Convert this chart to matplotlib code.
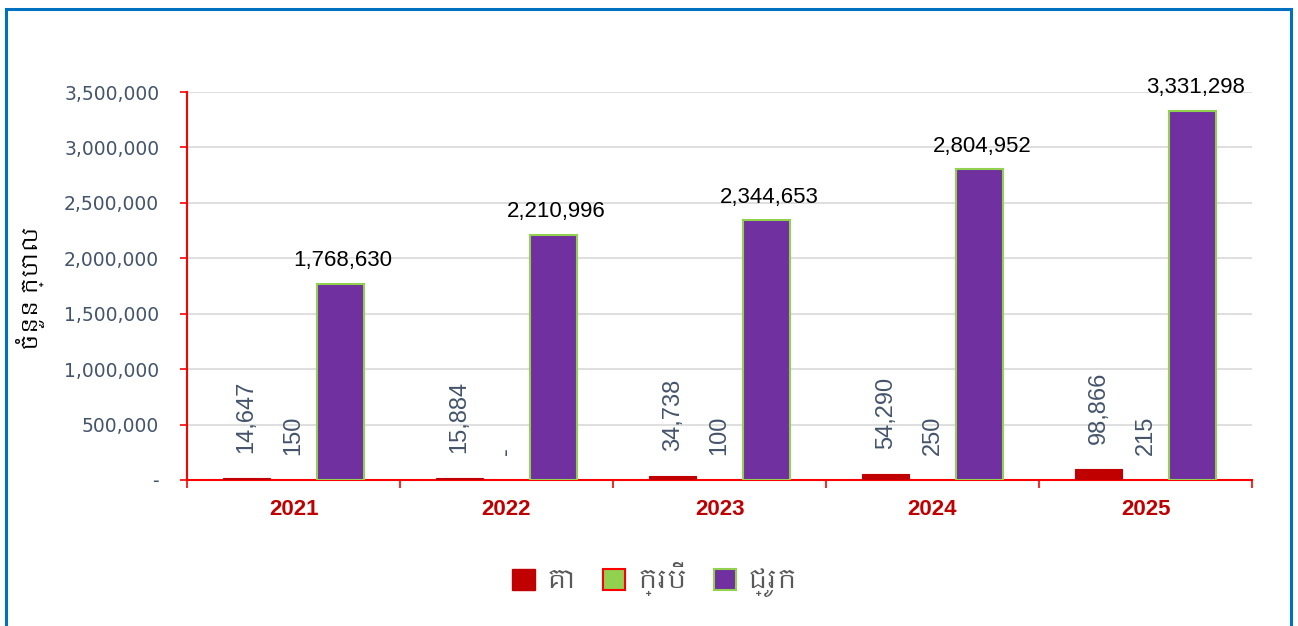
import matplotlib
matplotlib.use("Agg")
import matplotlib.pyplot as plt
import numpy as np
from matplotlib import font_manager
from matplotlib.patches import Rectangle, Patch

# ---------------- data ----------------
years = ["2021", "2022", "2023", "2024", "2025"]
series_names = ["គោ", "ក្របី", "ជ្រូក"]
cattle = [14647, 15884, 34738, 54290, 98866]
buffalo = [150, 0, 100, 250, 215]
pigs = [1768630, 2210996, 2344653, 2804952, 3331298]
y_label = "ចំនួន ក្បាល"
y_ticks = [0, 500000, 1000000, 1500000, 2000000, 2500000, 3000000, 3500000]

# ---------------- find a Khmer-capable font if any ----------------
khmer_family = None
try:
    from fontTools.ttLib import TTFont
    seen = set()
    for f in font_manager.fontManager.ttflist:
        if f.fname in seen:
            continue
        seen.add(f.fname)
        if "khmer" in f.name.lower() or "khmer" in f.fname.lower():
            khmer_family = f.name
            break
    if khmer_family is None:
        for f in font_manager.fontManager.ttflist:
            try:
                tt = TTFont(f.fname, fontNumber=0, lazy=True)
                cmap = tt.getBestCmap()
                if cmap and 0x1780 in cmap and 0x1794 in cmap:
                    khmer_family = f.name
                    break
            except Exception:
                continue
except Exception:
    pass
kh_fam = [khmer_family, "DejaVu Sans"] if khmer_family else ["DejaVu Sans"]

# ---------------- colours ----------------
c_cattle = "#C00000"
c_buff = "#92D050"
c_pig = "#7030A0"
c_axis = "#FF0000"
c_tick_text = "#44546A"
c_grid = "#D9D9D9"

W, H = 1298, 626
fig = plt.figure(figsize=(W / 100, H / 100), dpi=100)
ax = fig.add_axes([187 / W, 1 - 480 / H, (1252 - 187) / W, (480 - 92) / H])

x = np.arange(len(years))
bw = 0.22
b1 = ax.bar(x - bw, cattle, bw, color=c_cattle, edgecolor=c_cattle, linewidth=0.8, zorder=3)
b2 = ax.bar(x, buffalo, bw, color=c_buff, edgecolor=c_axis, linewidth=1.2, zorder=3)
b3 = ax.bar(x + bw, pigs, bw, color=c_pig, edgecolor=c_buff, linewidth=1.5, zorder=3)

ax.set_xlim(-0.5, len(years) - 0.5)
ax.set_ylim(0, 3500000)
ax.set_yticks(y_ticks)
ax.set_yticklabels(["-" if v == 0 else f"{v:,}" for v in y_ticks],
                   fontsize=13.5, color=c_tick_text, family="DejaVu Sans")
ax.yaxis.grid(True, color=c_grid, linewidth=1.2, zorder=0)
ax.set_axisbelow(True)

ax.set_xticks(x)
ax.set_xticklabels(years, fontsize=16, fontweight="bold", color=c_cattle,
                   family="Liberation Sans")
ax.tick_params(axis="x", length=0, pad=14)
ax.set_xticks(np.arange(-0.5, len(years)), minor=True)
ax.tick_params(axis="x", which="minor", length=5.5, color=c_axis, width=1.2, direction="out")
ax.tick_params(axis="y", length=5, color=c_axis, width=1.2, direction="out", pad=15)

for s in ["top", "right"]:
    ax.spines[s].set_visible(False)
for s in ["left", "bottom"]:
    ax.spines[s].set_color(c_axis)
    ax.spines[s].set_linewidth(1.5)

# rotated labels for cattle and buffalo
for bars, vals in [(b1, cattle), (b2, buffalo)]:
    for r, v in zip(bars, vals):
        txt = "-" if v == 0 else f"{v:,}"
        ax.annotate(txt, (r.get_x() + r.get_width() / 2, r.get_height()),
                    xytext=(0, 18), textcoords="offset points",
                    rotation=90, ha="center", va="bottom",
                    fontsize=17, color=c_tick_text, family="Liberation Sans")
# pig labels
for r, v in zip(b3, pigs):
    ax.annotate(f"{v:,}", (r.get_x() + r.get_width() / 2, r.get_height()),
                xytext=(2, 9), textcoords="offset points",
                ha="center", va="bottom", fontsize=16, color="black",
                family="Liberation Sans")

fig.text(30 / W, 1 - 288 / H, y_label, rotation=90, ha="center", va="center",
         fontsize=16, fontweight="bold", color="black", family=kh_fam)

handles = [Patch(facecolor=c_cattle, edgecolor=c_cattle),
           Patch(facecolor=c_buff, edgecolor=c_axis, linewidth=1.5),
           Patch(facecolor=c_pig, edgecolor=c_buff, linewidth=1.5)]
leg = fig.legend(handles, series_names, loc="center", bbox_to_anchor=(655 / W, 1 - 580 / H),
                 ncol=3, frameon=False, handlelength=0.85, handleheight=0.85,
                 handletextpad=0.45, columnspacing=1.0,
                 prop={"family": kh_fam, "size": 19})
for t in leg.get_texts():
    t.set_color("#595959")

# figure border
fig.add_artist(Rectangle((6 / W, -0.05), (1291 - 6) / W, (1 - 9 / H) + 0.05,
                         transform=fig.transFigure, fill=False,
                         edgecolor="#0070C0", linewidth=2.2, clip_on=False))

fig.savefig("out.png", dpi=100)
